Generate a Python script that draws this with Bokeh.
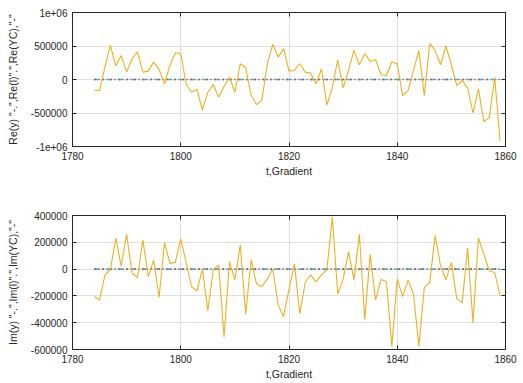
from bokeh.plotting import figure
from bokeh.layouts import column
from bokeh.models import FixedTicker, LinearAxis, Range1d, CustomJSTickFormatter
from bokeh.embed import file_html
from bokeh.resources import INLINE

years = list(range(1784, 1860))

re_yc = [-160000, -165000, 190000, 510000, 205000, 360000, 110000, 310000, 410000, 110000,
         125000, 260000, 150000, -65000, 210000, 400000, 385000, -75000, -190000, -150000,
         -455000, -190000, -75000, -265000, -105000, 35000, -190000, 235000, 175000, -240000,
         -375000, -300000, 235000, 525000, 335000, 460000, 125000, 135000, 235000, 110000,
         95000, -65000, 160000, -380000, -125000, 295000, -125000, 135000, 435000, 220000,
         385000, 270000, 295000, 70000, 60000, 260000, 235000, -240000, -165000, 135000,
         435000, -240000, 535000, 435000, 220000, 500000, 220000, -90000, -15000, -125000,
         -500000, -140000, -630000, -565000, 25000, -915000]

im_yc = [-205000, -230000, -42500, -5000, 232000, 22000, 260000, -30000, -62500, 217000,
         -55000, 67500, -212000, 200000, 42500, 50000, 225000, 50000, -132000, -162000,
         0, -312000, -5000, 30000, -507000, 55000, -80000, 180000, -337000, 70000,
         -112000, -130000, -75000, 0, -267000, -355000, -150000, 37500, -332000, -100000,
         -42500, -95000, -42500, -5000, 387000, -187000, -75000, 130000, -80000, 260000,
         -375000, 110000, -230000, -77500, -92500, -575000, -75000, -205000, -82500, -187000,
         -575000, -137000, -100000, 250000, 25000, -80000, 50000, -220000, -250000, 157000,
         -400000, 232000, 112000, -12500, -25000, -200000]

re_y = [0] * len(years)
re_l = [0] * len(years)
im_y = [0] * len(years)
im_l = [0] * len(years)

x_ticks = [1780, 1800, 1820, 1840, 1860]
top_ticks = [-1000000, -500000, 0, 500000, 1000000]
top_labels = {-1000000: "-1e+06", -500000: "-500000", 0: "0", 500000: "500000", 1000000: "1e+06"}
bot_ticks = [-600000, -400000, -200000, 0, 200000, 400000]
bot_labels = {v: str(v) for v in bot_ticks}

TXT = "#262626"
FONT = "Liberation Sans"


def box_axis(ticks):
    return LinearAxis(ticker=FixedTicker(ticks=ticks),
                      formatter=CustomJSTickFormatter(code="return '';"),
                      major_label_text_font_size="1px", major_label_standoff=0,
                      major_tick_in=4, major_tick_out=0, minor_tick_line_color=None,
                      axis_line_color=TXT, major_tick_line_color=TXT)


def make(yvals, lvals, ycvals, yr, yticks, ylabels, ylab, h, top_border, bottom_border):
    p = figure(width=523, height=h, output_backend="svg", toolbar_location=None,
               x_range=Range1d(1780, 1860), y_range=Range1d(*yr),
               frame_width=433, frame_height=134,
               min_border_left=72, min_border_right=18, min_border_top=top_border,
               min_border_bottom=bottom_border)
    p.line(years, yvals, color="#4DA6DE", line_width=1.6, line_dash="6 2 2 2")
    p.line(years, lvals, color="#D95319", line_width=1.5, line_dash="2 6")
    p.line(years, ycvals, color="#EDB120", line_width=1.1)

    p.outline_line_color = TXT
    p.outline_line_width = 1
    for ax in p.xaxis:
        ax.ticker = FixedTicker(ticks=x_ticks)
        ax.axis_label = "t,Gradient"
        ax.axis_label_standoff = 2
    for ax in p.yaxis:
        ax.ticker = FixedTicker(ticks=yticks)
        ax.major_label_overrides = ylabels
        ax.axis_label = ylab
        ax.axis_label_standoff = 9
    for ax in p.axis:
        ax.major_tick_in = 4
        ax.major_tick_out = 0
        ax.minor_tick_line_color = None
        ax.axis_line_color = TXT
        ax.major_tick_line_color = TXT
        ax.major_label_text_font = FONT
        ax.major_label_text_font_size = "10px"
        ax.major_label_text_color = TXT
        ax.axis_label_text_font = FONT
        ax.axis_label_text_font_size = "10.5px"
        ax.axis_label_text_font_style = "normal"
        ax.axis_label_text_color = TXT
        ax.major_label_standoff = 5
    p.add_layout(box_axis(yticks), "right")
    p.add_layout(box_axis(x_ticks), "above")
    p.grid.grid_line_color = "#e0e0e0"
    p.grid.grid_line_width = 1
    p.xgrid.ticker = FixedTicker(ticks=x_ticks)
    p.ygrid.ticker = FixedTicker(ticks=yticks)
    p.background_fill_color = "white"
    p.border_fill_color = "white"
    return p


p1 = make(re_y, re_l, re_yc, (-1000000, 1000000), top_ticks, top_labels,
          'Re(y) "-.",Re(l)".",Re(YC),"-"', 190, 12, 44)
p2 = make(im_y, im_l, im_yc, (-600000, 400000), bot_ticks, bot_labels,
          'Im(y) "-.",Im(l)".",Im(YC),"-"', 193, 25, 34)

p = column(p1, p2, spacing=0)
open("out.html", "w").write(file_html(p, INLINE))
